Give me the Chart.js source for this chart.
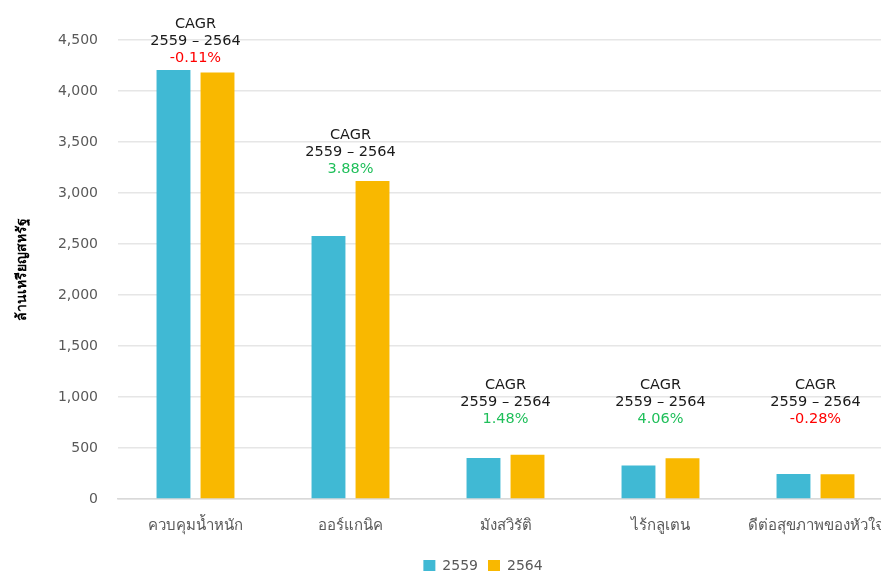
<!DOCTYPE html>
<html>
<head>
<meta charset="utf-8">
<script src="https://cdn.jsdelivr.net/npm/chart.js@4/dist/chart.umd.min.js"></script>
<style>
  html, body { margin: 0; padding: 0; background: #ffffff; overflow: hidden; }
  #wrap { position: relative; width: 966px; height: 583px; }
</style>
</head>
<body>
<div id="wrap"><canvas id="chart"></canvas></div>
<script>
// Market size by health-food segment (million USD)
const categories = ['ควบคุมน้ำหนัก', 'ออร์แกนิค', 'มังสวิรัติ', 'ไร้กลูเตน', 'ดีต่อสุขภาพของหัวใจ'];
const seriesNames = ['2559', '2564'];
const values2559 = [4205, 2578, 402, 328, 246];
const values2564 = [4182, 3118, 433, 400, 243];
const cagrPercent = [-0.11, 3.88, 1.48, 4.06, -0.28];
const cagrTitle = 'CAGR';
const cagrPeriod = '2559 – 2564';
const yTitle = 'ล้านเหรียญสหรัฐ';

const FONT = "'DejaVu Sans', Tahoma, 'Noto Sans', sans-serif";
const GRAY = '#595959';

// CAGR annotations above each category pair
const cagrLabels = {
  id: 'cagrLabels',
  afterDatasetsDraw(chart) {
    const { ctx } = chart;
    const yScale = chart.scales.y;
    const floorPx = yScale.getPixelForValue(660);
    const m0 = chart.getDatasetMeta(0).data;
    const m1 = chart.getDatasetMeta(1).data;
    ctx.save();
    ctx.textAlign = 'center';
    ctx.textBaseline = 'middle';
    ctx.font = '14.5px ' + FONT;
    categories.forEach((c, i) => {
      const x = (m0[i].x + m1[i].x) / 2;
      const top = Math.min(m0[i].y, m1[i].y, floorPx);
      const pctY = top - 12;
      ctx.fillStyle = '#1a1a1a';
      ctx.fillText(cagrTitle, x, pctY - 34);
      ctx.fillText(cagrPeriod, x, pctY - 17);
      const v = cagrPercent[i];
      ctx.fillStyle = v < 0 ? '#ff0000' : '#1fbf5a';
      ctx.fillText(v.toFixed(2) + '%', x, pctY);
    });
    ctx.restore();
  }
};

new Chart(document.getElementById('chart'), {
  type: 'bar',
  data: {
    labels: categories,
    datasets: [
      { label: seriesNames[0], data: values2559, backgroundColor: '#40b9d4',
        categoryPercentage: 0.568, barPercentage: 0.77 },
      { label: seriesNames[1], data: values2564, backgroundColor: '#f9b800',
        categoryPercentage: 0.568, barPercentage: 0.77 }
    ]
  },
  options: {
    responsive: true,
    maintainAspectRatio: false,
    animation: false,
    devicePixelRatio: 1,
    layout: { padding: { top: 40, left: 0, right: 0, bottom: 0 } },
    plugins: {
      legend: {
        position: 'bottom',
        labels: {
          boxWidth: 12, boxHeight: 12, padding: 10,
          color: GRAY, font: { family: FONT, size: 14 }
        }
      },
      tooltip: { enabled: false }
    },
    scales: {
      x: {
        grid: { display: false, drawTicks: false },
        border: { display: true, color: '#d9d9d9', width: 1.5 },
        ticks: { color: GRAY, padding: 18, font: { family: FONT, size: 15 }, autoSkip: false, maxRotation: 0 },
        afterFit(s) { s.height = 50; }
      },
      y: {
        position: 'left',
        min: 0, max: 4500,
        ticks: {
          stepSize: 500, color: GRAY, padding: 20,
          font: { family: FONT, size: 14 },
          callback: v => v.toLocaleString('en-US')
        },
        grid: { color: '#e6e6e6', lineWidth: 1.5, drawTicks: false },
        border: { display: false },
        title: {
          display: true, text: yTitle, color: '#000000',
          font: { family: FONT, size: 14, weight: 'bold' },
          padding: { top: 14, bottom: 4 }
        },
        afterFit(s) { s.width = 118; }
      },
      yPad: {
        position: 'right',
        display: true,
        min: 0, max: 4500,
        grid: { display: false, drawTicks: false },
        border: { display: false },
        ticks: { display: false },
        afterFit(s) { s.width = 73; }
      }
    }
  },
  plugins: [cagrLabels]
});
</script>
</body>
</html>
